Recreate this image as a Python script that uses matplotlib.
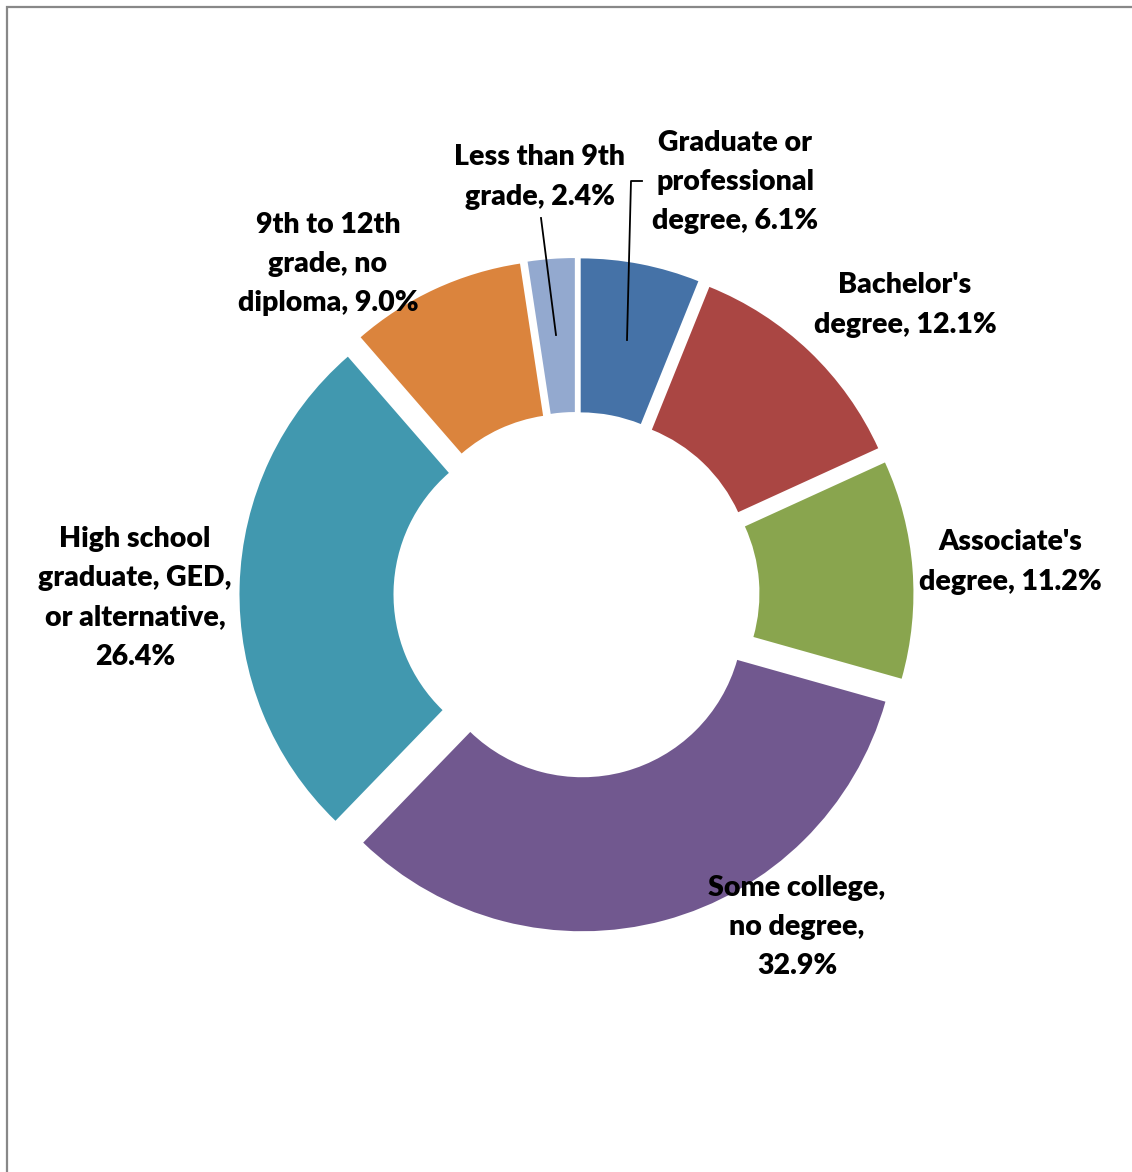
import matplotlib.pyplot as plt
from matplotlib.patches import Rectangle

# Educational attainment shares (percent), clockwise from 12 o'clock
categories = ['Graduate or professional degree', "Bachelor's degree", "Associate's degree",
              'Some college, no degree', 'High school graduate, GED, or alternative',
              '9th to 12th grade, no diploma', 'Less than 9th grade']
shares = [6.1, 12.1, 11.2, 32.9, 26.4, 9.0, 2.4]
label_text = ['Graduate or\nprofessional\ndegree, {:.1f}%',
              "Bachelor's\ndegree, {:.1f}%",
              "Associate's\ndegree, {:.1f}%",
              'Some college,\nno degree,\n{:.1f}%',
              'High school\ngraduate, GED,\nor alternative,\n{:.1f}%',
              '9th to 12th\ngrade, no\ndiploma, {:.1f}%',
              'Less than 9th\ngrade, {:.1f}%']
colors = ['#4572A7', '#AA4643', '#89A54E', '#71588F', '#4198AF', '#DB843D', '#93A9CF']

W, H = 1132, 1172
fig = plt.figure(figsize=(W / 100, H / 100), dpi=100)
ax = fig.add_axes([0, 0, 1, 1])
ax.set_xlim(0, W)
ax.set_ylim(-H, 0)
ax.set_aspect('equal')
ax.axis('off')

# outer frame (only top and left edges fall inside the image)
ax.add_patch(Rectangle((7, -H - 50), W + 50, H + 43, fill=False, edgecolor='#888888', lw=1.6))

cx, cy = 576.5, -595
R = 315
r_in = 161
wedges, _ = ax.pie(shares, colors=colors, radius=R, center=(cx, cy),
                   startangle=90, counterclock=False, explode=[22] * len(shares),
                   wedgeprops=dict(width=R - r_in, linewidth=0))
ax.set_xlim(0, W)
ax.set_ylim(-H, 0)

label_pos = [(735, 182), (905, 305), (1010, 562), (797, 927), (135, 598), (328, 264), (540, 177)]
for txt, val, (lx, ly) in zip(label_text, shares, label_pos):
    ax.text(lx, -ly, txt.format(val), ha='center', va='center', fontsize=20.5,
            fontweight='heavy', family='Lato', linespacing=1.62, color='black')

# leader lines for the two narrow slices
ax.plot([556, 541], [-335, -218], color='black', lw=1.3)
ax.plot([627, 631, 642], [-340, -181, -181], color='black', lw=1.3)

fig.savefig('out.png', dpi=100)
